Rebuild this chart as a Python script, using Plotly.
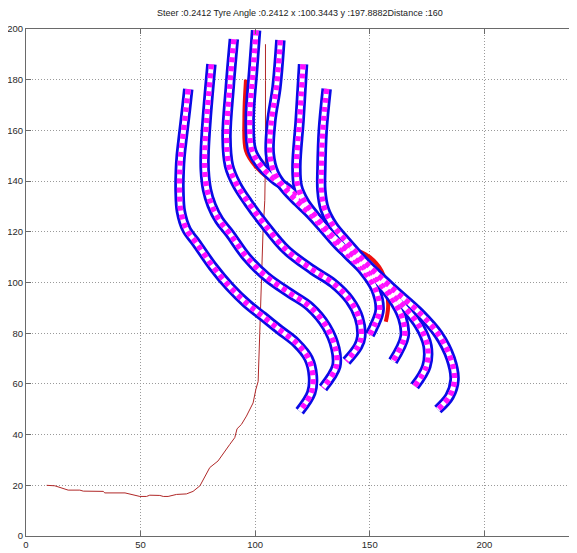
import plotly.graph_objects as go

TITLE = "Steer :0.2412 Tyre Angle :0.2412 x :100.3443 y :197.8882Distance :160"

x_ticks = [0, 50, 100, 150, 200]
y_ticks = [0, 20, 40, 60, 80, 100, 120, 140, 160, 180, 200]

# driven trajectory (thin dark red)
traj_x = [9.0, 12.6, 18.4, 23.5, 25.0, 33.7, 34.4, 43.2, 49.7, 52.6, 54.0, 58.4, 59.9, 62.0, 65.7,
          70.0, 72.9, 75.9, 80.2, 83.8, 88.9, 91.1, 92.1, 94.0, 96.2, 99.1, 100.3, 101.3, 102.0,
          102.4, 103.0, 103.4, 104.2, 104.5, 104.5, 104.5]
traj_y = [20.0, 19.8, 18.1, 18.1, 17.7, 17.6, 17.0, 17.0, 15.6, 15.6, 16.1, 16.0, 15.6, 15.6, 16.4,
          16.6, 17.6, 19.8, 27.0, 29.6, 36.1, 38.8, 42.3, 44.0, 47.3, 52.5, 57.8, 61.0, 80.0,
          93.1, 106.2, 119.3, 132.4, 150.0, 179.6, 194.0]

# selected path (bright red, mostly hidden under the candidate chains)
sel_x = [96.0, 95.3, 96.0, 100.0, 106.0, 115.1, 122.4, 131.0, 140.5, 150.0, 155.2, 157.5, 158.0, 157.0]
sel_y = [180.0, 165.0, 152.0, 146.0, 141.0, 136.4, 129.8, 121.0, 114.5, 110.0, 104.5, 97.0, 90.0, 84.5]

# candidate paths (vehicle footprints)
c1_x = [70.8, 69.8, 68.5, 67.5, 67.1, 67.0, 67.6, 70.0, 74.4, 81.6, 88.9, 96.2, 103.4, 110.7, 118.0, 123.3, 125.2, 124.5, 119.4]
c1_y = [176.3, 168.0, 158.0, 150.0, 144.0, 136.0, 128.0, 121.0, 115.5, 106.2, 98.3, 91.8, 86.6, 81.3, 76.1, 70.0, 63.0, 56.5, 49.2]

c2_x = [80.9, 79.8, 78.8, 78.0, 78.0, 79.0, 81.0, 84.3, 88.9, 96.2, 104.9, 115.1, 123.8, 131.1, 135.0, 135.4, 129.6]
c2_y = [186.1, 175.0, 163.9, 152.0, 144.2, 136.5, 130.5, 124.6, 119.3, 110.1, 102.3, 95.8, 90.5, 82.6, 74.0, 66.9, 58.4]

c3_x = [90.7, 88.9, 87.5, 88.6, 92.0, 97.0, 104.0, 113.6, 125.2, 134.0, 141.2, 145.3, 146.3, 144.9, 139.8]
c3_y = [196.0, 177.0, 157.3, 146.0, 138.5, 131.5, 123.0, 112.8, 104.9, 99.7, 93.1, 86.0, 78.7, 74.8, 68.9]

c4_x = [100.4, 99.1, 97.6, 98.6, 102.5, 108.0, 115.1, 122.4, 131.0, 139.8, 147.0, 152.4, 154.3, 152.0, 150.0]
c4_y = [199.5, 183.5, 163.9, 152.0, 146.0, 141.0, 136.4, 129.8, 121.0, 111.5, 104.9, 97.5, 89.2, 83.0, 79.4]

c5_x = [111.0, 109.3, 107.1, 106.4, 108.5, 113.0, 118.5, 124.0, 129.5, 136.9, 150.0, 159.5, 164.2, 165.2, 160.1]
c5_y = [195.6, 177.0, 163.9, 150.8, 143.0, 137.0, 131.8, 127.0, 121.5, 114.0, 103.6, 94.0, 86.0, 78.7, 68.9]

c6_x = [120.9, 119.4, 118.0, 118.6, 121.5, 126.0, 132.5, 144.2, 154.3, 164.5, 171.5, 175.2, 174.7, 169.6]
c6_y = [186.1, 163.9, 146.0, 138.0, 132.0, 126.5, 119.5, 109.5, 101.0, 91.0, 83.0, 75.0, 66.9, 59.1]

c7_x = [131.2, 129.5, 128.9, 128.9, 130.3, 134.0, 139.5, 148.5, 160.1, 171.8, 180.0, 185.3, 187.0, 184.8, 179.7]
c7_y = [176.4, 160.0, 145.0, 136.4, 129.0, 122.5, 116.5, 107.5, 97.5, 88.0, 79.5, 70.0, 61.7, 55.1, 49.9]

paths = [(c1_x, c1_y), (c2_x, c2_y), (c3_x, c3_y), (c4_x, c4_y),
         (c5_x, c5_y), (c6_x, c6_y), (c7_x, c7_y)]

fig = go.Figure()

fig.add_trace(go.Scatter(x=traj_x, y=traj_y, mode="lines",
                         line=dict(color="#b02828", width=1), showlegend=False, hoverinfo="skip"))
fig.add_trace(go.Scatter(x=sel_x, y=sel_y, mode="lines",
                         line=dict(color="#ee1010", width=4, shape="spline"),
                         showlegend=False, hoverinfo="skip"))

for px, py in paths:
    fig.add_trace(go.Scatter(x=px, y=py, mode="lines",
                             line=dict(color="#0a0ae6", width=10.5, shape="spline"),
                             showlegend=False, hoverinfo="skip"))
for px, py in paths:
    fig.add_trace(go.Scatter(x=px, y=py, mode="lines",
                             line=dict(color="white", width=5, shape="spline"),
                             showlegend=False, hoverinfo="skip"))
    fig.add_trace(go.Scatter(x=px, y=py, mode="lines",
                             line=dict(color="#ff10ff", width=5.5, shape="spline", dash="5px,4px"),
                             showlegend=False, hoverinfo="skip"))

font_fam = "Liberation Sans, Arial, sans-serif"

axis_common = dict(
    showline=True, linecolor="#6a6a6a", linewidth=1, mirror="allticks",
    ticks="inside", ticklen=5, tickcolor="#6a6a6a",
    showgrid=True, gridcolor="#9a9a9a", griddash="1px,2px", gridwidth=1,
    zeroline=False, automargin=False,
    tickfont=dict(family=font_fam, size=9.5, color="#2a2a2a"),
)

fig.update_xaxes(range=[0, 240], tickvals=x_ticks, ticklabelstandoff=0, **axis_common)
fig.update_yaxes(range=[0, 200], tickvals=y_ticks, ticklabelstandoff=0, **axis_common)

# the page body adds an 8 px margin, so the figure is sized/placed to compensate
fig.update_layout(
    width=569, height=545,
    margin=dict(l=18, r=1, t=21, b=17, pad=0),
    paper_bgcolor="white", plot_bgcolor="white",
    title=dict(text=TITLE, x=0.513, xanchor="center", y=1 - 5 / 545, yanchor="middle",
               pad=dict(t=0, b=0, l=0, r=0),
               font=dict(family=font_fam, size=9, color="#222222")),
)

fig.write_html("out.html")
